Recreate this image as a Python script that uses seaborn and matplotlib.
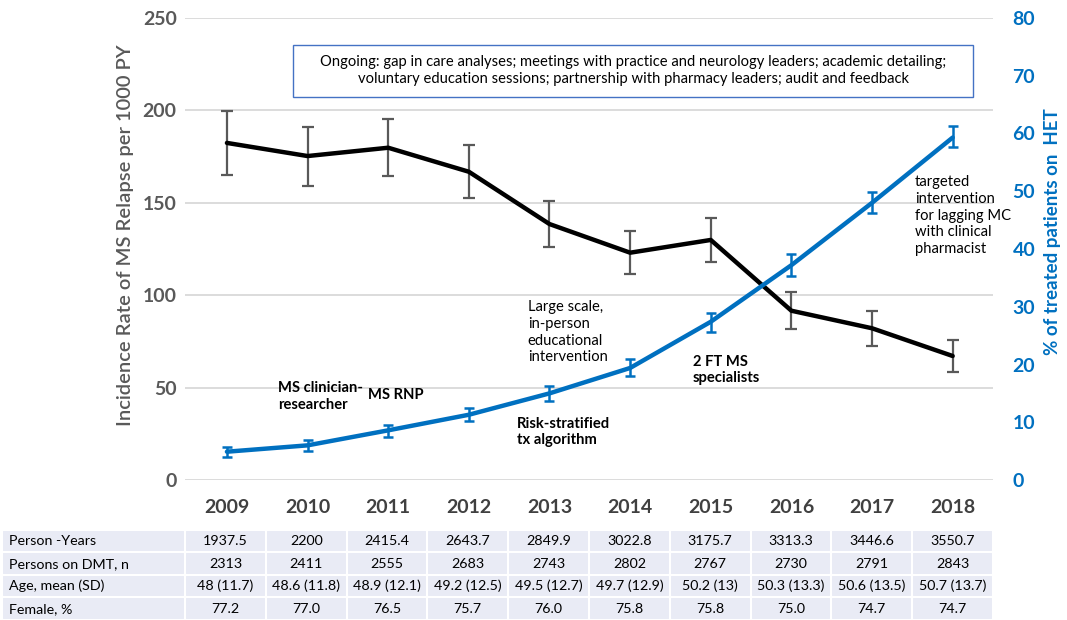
import matplotlib
matplotlib.use("Agg")
import matplotlib.pyplot as plt
import seaborn as sns
import pandas as pd
from matplotlib.patches import Rectangle

# ---- data ----
years = [2009, 2010, 2011, 2012, 2013, 2014, 2015, 2016, 2017, 2018]
rate = [182.4, 175.3, 179.8, 166.8, 138.5, 123.0, 129.9, 91.6, 82.1, 67.1]
rate_lo = [165.0, 159.3, 164.5, 152.6, 125.9, 111.5, 118.1, 81.5, 72.5, 58.6]
rate_hi = [199.6, 191.2, 195.3, 181.4, 151.1, 134.7, 141.6, 101.6, 91.6, 75.8]
het = [4.9, 6.0, 8.6, 11.3, 15.0, 19.4, 27.4, 37.2, 48.0, 59.3]
het_lo = [4.0, 5.0, 7.5, 10.2, 13.7, 18.0, 25.7, 35.4, 46.2, 57.7]
het_hi = [5.7, 6.9, 9.6, 12.5, 16.3, 21.0, 29.0, 39.1, 49.9, 61.3]

row_labels = ["Person -Years", "Persons on DMT, n", "Age, mean (SD)", "Female, %"]
person_years = ["1937.5", "2200", "2415.4", "2643.7", "2849.9", "3022.8", "3175.7", "3313.3", "3446.6", "3550.7"]
persons_dmt = ["2313", "2411", "2555", "2683", "2743", "2802", "2767", "2730", "2791", "2843"]
age_mean = ["48 (11.7)", "48.6 (11.8)", "48.9 (12.1)", "49.2 (12.5)", "49.5 (12.7)",
            "49.7 (12.9)", "50.2 (13)", "50.3 (13.3)", "50.6 (13.5)", "50.7 (13.7)"]
female_pct = ["77.2", "77.0", "76.5", "75.7", "76.0", "75.8", "75.8", "75.0", "74.7", "74.7"]

box_text = ("Ongoing: gap in care analyses; meetings with practice and neurology leaders; academic detailing;\n"
            "voluntary education sessions; partnership with pharmacy leaders; audit and feedback")

# ---- style ----
sns.set_theme(style="white")
FONT = ["Lato", "DejaVu Sans"]
plt.rcParams["font.family"] = FONT

GRAY = "#595959"
BLUE = "#0070C0"

df = pd.DataFrame({"year": years, "rate": rate, "het": het})

fig = plt.figure(figsize=(10.67, 6.2), dpi=100)
ax = fig.add_axes([185 / 1067, 1 - 480 / 620, 808 / 1067, 462 / 620])
ax2 = ax.twinx()

# black line: incidence rate
sns.lineplot(data=df, x="year", y="rate", ax=ax, color="black", linewidth=3.2, zorder=3)
ax.errorbar(years, rate,
            yerr=[[r - l for r, l in zip(rate, rate_lo)], [h - r for r, h in zip(rate, rate_hi)]],
            fmt="none", ecolor=GRAY, elinewidth=1.6, capsize=4, capthick=1.6, zorder=2)

# blue line: % on HET
sns.lineplot(data=df, x="year", y="het", ax=ax2, color=BLUE, linewidth=3.2, zorder=3)
ax2.errorbar(years, het,
             yerr=[[r - l for r, l in zip(het, het_lo)], [h - r for r, h in zip(het, het_hi)]],
             fmt="none", ecolor=BLUE, elinewidth=1.8, capsize=3.5, capthick=1.8, zorder=4)

ax.set_xlim(2008.48, 2018.5)
ax.set_ylim(0, 250)
ax2.set_ylim(0, 80)
ax.set_yticks(range(0, 251, 50))
ax2.set_yticks(range(0, 81, 10))
ax.set_xticks(years)

ax.yaxis.grid(True, color="#D9D9D9", linewidth=1.3)
ax.set_axisbelow(True)
for a in (ax, ax2):
    for s in a.spines.values():
        s.set_visible(False)
    a.tick_params(length=0)

ax.tick_params(axis="y", labelsize=14, labelcolor=GRAY, pad=6)
ax.tick_params(axis="x", labelsize=14, labelcolor="#404040", pad=14)
ax2.tick_params(axis="y", labelsize=14, labelcolor=BLUE, pad=14)
for lbl in ax.get_yticklabels() + ax.get_xticklabels() + ax2.get_yticklabels():
    lbl.set_fontweight("bold")

ax.set_xlabel("")
ax.set_ylabel("Incidence Rate of MS Relapse per 1000 PY", fontsize=14.5, color=GRAY, fontweight="semibold")
ax.yaxis.set_label_coords(-0.063, 0.53)
ax2.set_ylabel("% of treated patients on  HET", fontsize=13.5, color=BLUE, fontweight="bold")
ax2.yaxis.set_label_coords(1.063, 0.537)

# ---- annotations ----
ax.add_patch(Rectangle((0.134, 0.829), 0.841, 0.113, transform=ax.transAxes,
                       facecolor="white", edgecolor="#4472C4", linewidth=1.0, zorder=5))
ax.text(0.5545, 0.886, box_text, transform=ax.transAxes, ha="center", va="center",
        fontsize=10.6, color="black", linespacing=1.3, zorder=6)

ann_kw = dict(fontsize=10.6, color="black", va="center", ha="left", linespacing=1.25, zorder=6)
ax.text(2009.63, 45, "MS clinician-\nresearcher", fontweight="bold", **ann_kw)
ax.text(2010.75, 46, "MS RNP", fontweight="bold", **ann_kw)
ax.text(2012.6, 26, "Risk-stratified\ntx algorithm", fontweight="bold", **ann_kw)
ax.text(2012.73, 80, "Large scale,\nin-person\neducational\nintervention", **ann_kw)
ax.text(2014.78, 59.5, "2 FT MS\nspecialists", fontweight="bold", **ann_kw)
ax.text(2017.53, 143, "targeted\nintervention\nfor lagging MC\nwith clinical\npharmacist", **ann_kw)

# ---- table ----
cell_text = [[row_labels[0]] + person_years,
             [row_labels[1]] + persons_dmt,
             [row_labels[2]] + age_mean,
             [row_labels[3]] + female_pct]
first_w = (186 - 3) / 808
col_w = [first_w] + [0.1] * len(years)
tbl = ax.table(cellText=cell_text, colWidths=col_w, cellLoc="center",
               bbox=[-first_w, -0.303, first_w + 1.0, 0.195])
tbl.auto_set_font_size(False)
for (r, c), cell in tbl.get_celld().items():
    cell.set_facecolor("#E9EBF5")
    cell.set_edgecolor("white")
    cell.set_linewidth(1.5)
    cell.get_text().set_fontsize(10.3)
    cell.get_text().set_color("black")
    if c == 0:
        cell.get_text().set_ha("left")
        cell.PAD = 0.04

fig.savefig("out.png", dpi=100)
